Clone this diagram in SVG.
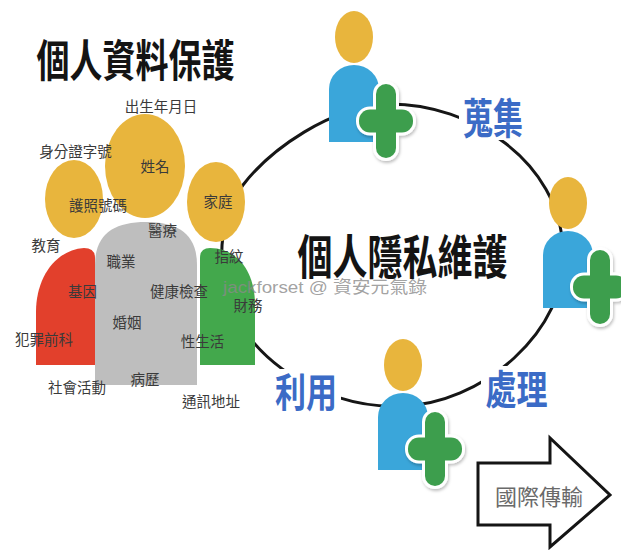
<svg xmlns="http://www.w3.org/2000/svg" width="621" height="550" viewBox="0 0 621 550">
  <style>
    .cjk { font-family: "Noto Sans CJK TC", "Noto Sans CJK SC", sans-serif; }
    .title { font-size: 33px; font-weight: 700; fill: #141414; text-anchor: middle; }
    .tag { font-size: 14.5px; fill: #3a3a3a; text-anchor: middle; }
    .verb { font-size: 30px; font-weight: 700; fill: #3b6bc6; text-anchor: middle; }
    .gold { fill: #e8b53d; }
    .ring { fill: none; stroke: #161616; stroke-width: 3; stroke-linecap: round; }
    .bg { fill: #ffffff; }
  </style>
  <defs>
    <filter id="soft" x="-30%" y="-30%" width="160%" height="160%">
      <feDropShadow dx="1" dy="2" stdDeviation="1.5" flood-color="#000" flood-opacity="0.25"/>
    </filter>
    <!-- person with plus badge; origin is the centre of the head -->
    <g id="person">
      <ellipse cx="0" cy="0" rx="19" ry="26" class="gold"/>
      <path d="M -25,105 L -25,52 A 25 24 0 0 1 25,52 L 25,105 Z" fill="#3aa6da"/>
      <g transform="translate(32,84)" filter="url(#soft)">
        <rect x="-10" y="-37" width="20" height="74" rx="10" fill="none" stroke="#fff" stroke-width="6"/>
        <rect x="-27" y="-11.5" width="54" height="23" rx="11" fill="none" stroke="#fff" stroke-width="6"/>
        <rect x="-10" y="-37" width="20" height="74" rx="10" fill="#3e9e4e"/>
        <rect x="-27" y="-11.5" width="54" height="23" rx="11" fill="#3e9e4e"/>
      </g>
    </g>
  </defs>

  <rect width="621" height="550" fill="#ffffff"/>

  <!-- lifecycle loop -->
  <g id="connectors">
    <path class="ring" d="M 243,185 C 270,150 330,106 390,104 C 470,104 560,160 563,250 C 570,330 480,406 400,406 C 320,410 225,350 222,265 C 220,230 228,205 243,185"/>
  </g>

  <!-- title -->
  <g id="title-data">
    <text class="cjk title" transform="translate(135.5,77) scale(1,1.35)">個人資料保護</text>
  </g>

  <!-- personal data cluster -->
  <g id="data-shapes">
    <path id="shape-red" d="M 36,365 L 36,312 C 36,278 55,250 84,248 Q 95,248 95,258 L 95,365 Z" fill="#e2402c"/>
    <path id="shape-gray" d="M 95,385 L 95,265 C 95,234 114,222 146,222 C 178,222 197,234 197,265 L 197,385 Z" fill="#bebebe"/>
    <path id="shape-green" d="M 200,365 L 200,258 Q 200,248 210,248 C 236,248 255,270 255,305 L 255,365 Z" fill="#43a84c"/>
    <ellipse id="circle-name" cx="145" cy="166" rx="40" ry="52" class="gold"/>
    <ellipse id="circle-passport" cx="74" cy="199" rx="29" ry="39" class="gold"/>
    <ellipse id="circle-family" cx="216" cy="202" rx="29" ry="40" class="gold"/>
  </g>

  <g id="data-labels" class="cjk">
    <text class="tag" x="161" y="112">出生年月日</text>
    <text class="tag" x="75.5" y="157">身分證字號</text>
    <text class="tag" x="155" y="172">姓名</text>
    <text class="tag" x="98" y="211">護照號碼</text>
    <text class="tag" x="218" y="207">家庭</text>
    <text class="tag" x="162.5" y="236">醫療</text>
    <text class="tag" x="46" y="251">教育</text>
    <text class="tag" x="121" y="267">職業</text>
    <text class="tag" x="229" y="262">指紋</text>
    <text class="tag" x="82.5" y="297">基因</text>
    <text class="tag" x="179" y="297">健康檢查</text>
    <text class="tag" x="248" y="311">財務</text>
    <text class="tag" x="127" y="328">婚姻</text>
    <text class="tag" x="44" y="345">犯罪前科</text>
    <text class="tag" x="202.5" y="347">性生活</text>
    <text class="tag" x="77" y="393">社會活動</text>
    <text class="tag" x="145" y="385">病歷</text>
    <text class="tag" x="211" y="407">通訊地址</text>
  </g>

  <!-- watermark -->
  <g id="watermark">
    <text x="223" y="293" font-family="Liberation Sans, Noto Sans CJK TC, sans-serif" font-size="17" fill="#8a8a8a" fill-opacity="0.8" textLength="204" lengthAdjust="spacingAndGlyphs">jackforset @ 資安元氣錄</text>
  </g>

  <!-- centre heading -->
  <g id="title-privacy">
    <text class="cjk title" style="font-size:35px" transform="translate(402.5,274) scale(1,1.34)">個人隱私維護</text>
  </g>

  <!-- people on the loop -->
  <g id="person-collect"><use href="#person" transform="translate(354,37)"/></g>
  <g id="person-process"><use href="#person" transform="translate(568,203)"/></g>
  <g id="person-use"><use href="#person" transform="translate(403,365)"/></g>

  <!-- stage labels -->
  <g id="label-collect">
    <rect class="bg" x="459" y="96" width="68" height="44"/>
    <text class="cjk verb" transform="translate(493,134) scale(1,1.4)">蒐集</text>
  </g>
  <g id="label-process">
    <rect class="bg" x="481" y="366" width="70" height="44"/>
    <text class="cjk verb" style="font-size:31px" transform="translate(516.5,404) scale(1,1.3)">處理</text>
  </g>
  <g id="label-use">
    <rect class="bg" x="271" y="369" width="70" height="44"/>
    <text class="cjk verb" style="font-size:31px" transform="translate(306,407) scale(1,1.3)">利用</text>
  </g>

  <!-- cross-border transfer arrow -->
  <g id="arrow-transfer">
    <path d="M 478,463 L 550,463 L 550,438 L 610,495 L 550,547 L 550,525 L 478,525 Z" fill="#ffffff" stroke="#151515" stroke-width="3" stroke-linejoin="miter"/>
    <text class="cjk" x="539" y="505" font-size="22" fill="#6a6a6a" text-anchor="middle">國際傳輸</text>
  </g>
</svg>
